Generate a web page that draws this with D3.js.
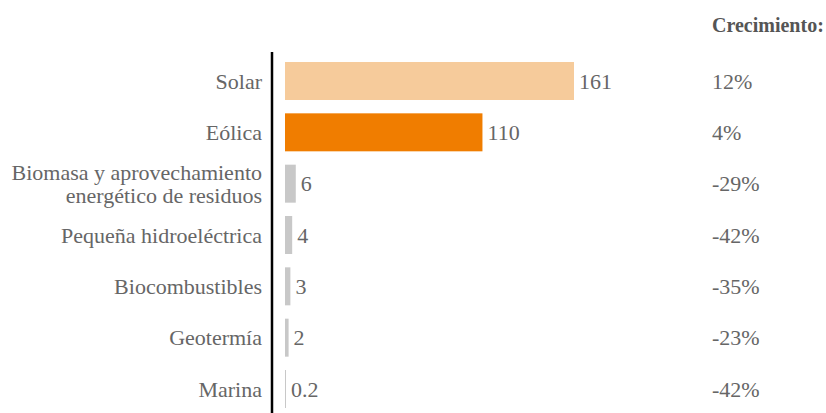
<!DOCTYPE html>
<html>
<head>
<meta charset="utf-8">
<script src="https://cdn.jsdelivr.net/npm/d3@7"></script>
<style>
  body { margin: 0; background: #fff; }
  svg { font-family: "Liberation Serif", serif; }
</style>
</head>
<body>
<svg width="826" height="413"></svg>
<script>
// data
var categories = ["Solar", "Eólica", "Biomasa y aprovechamiento\nenergético de residuos",
                  "Pequeña hidroeléctrica", "Biocombustibles", "Geotermía", "Marina"];
var values = [161, 110, 6, 4, 3, 2, 0.2];
var valueLabels = ["161", "110", "6", "4", "3", "2", "0.2"];
var growth = ["12%", "4%", "-29%", "-42%", "-35%", "-23%", "-42%"];
var colors = ["#f6cb9b", "#f07d00", "#c8c8c8", "#c8c8c8", "#c8c8c8", "#c8c8c8", "#c8c8c8"];

var rows = categories.map(function(c, i) {
  return {name: c, value: values[i], label: valueLabels[i], growth: growth[i], color: colors[i]};
});

var svg = d3.select("svg"),
    x0 = 285,
    textColor = "#666";

var x = d3.scaleLinear()
          .domain([0, 161])
          .range([x0, 574]);

var y = d3.scaleBand()
          .domain(categories)
          .range([62, 408])
          .paddingInner(0.26)
          .paddingOuter(0);

// vertical axis line
svg.append("line")
    .attr("x1", 272).attr("x2", 272)
    .attr("y1", 52).attr("y2", 413)
    .attr("stroke", "#000")
    .attr("stroke-width", 2.5);

svg.selectAll(".bar")
  .data(rows)
  .enter().append("rect")
    .attr("class", "bar")
    .attr("x", x(0))
    .attr("y", function(d) { return y(d.name); })
    .attr("width", function(d) { return Math.max(1, x(d.value) - x(0)); })
    .attr("height", y.bandwidth())
    .attr("fill", function(d) { return d.color; });

// category labels
var cat = svg.selectAll(".cat")
  .data(rows)
  .enter().append("text")
    .attr("class", "cat")
    .attr("text-anchor", "end")
    .attr("fill", textColor)
    .style("font-size", "22px");

cat.each(function(d) {
  var lines = d.name.split("\n"),
      cy = y(d.name) + y.bandwidth() / 2,
      t = d3.select(this);
  lines.forEach(function(l, j) {
    t.append("tspan")
      .attr("x", 262)
      .attr("y", cy + (j - (lines.length - 1) / 2) * 23)
      .attr("dy", "0.35em")
      .text(l);
  });
});

// value labels
svg.selectAll(".val")
  .data(rows)
  .enter().append("text")
    .attr("class", "val")
    .attr("x", function(d) { return Math.max(x(d.value), x0 + 1) + 5; })
    .attr("y", function(d) { return y(d.name) + y.bandwidth() / 2; })
    .attr("dy", "0.35em")
    .attr("fill", textColor)
    .style("font-size", "22px")
    .text(function(d) { return d.label; });

// growth column
svg.selectAll(".growth")
  .data(rows)
  .enter().append("text")
    .attr("class", "growth")
    .attr("x", 712)
    .attr("y", function(d) { return y(d.name) + y.bandwidth() / 2; })
    .attr("dy", "0.35em")
    .attr("fill", textColor)
    .style("font-size", "22px")
    .text(function(d) { return d.growth; });

svg.append("text")
    .attr("x", 712)
    .attr("y", 32)
    .attr("fill", "#555")
    .style("font-size", "20px")
    .style("font-weight", "bold")
    .text("Crecimiento:");
</script>
</body>
</html>
